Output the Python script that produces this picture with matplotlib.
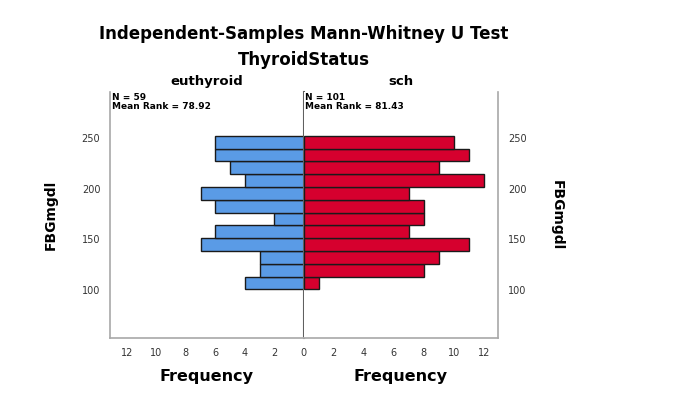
import numpy as np
import matplotlib
matplotlib.use("Agg")
import matplotlib.pyplot as plt

plt.rcParams['font.family'] = ['DejaVu Sans']

# bin edges of FBGmgdl
bin_edges = [100.7, 113.3, 126.0, 138.6, 151.2, 163.9, 176.5,
             189.1, 201.7, 214.4, 227.0, 239.6, 252.3]
# frequency per bin, bottom to top
euthyroid_counts = [4, 3, 3, 7, 6, 2, 6, 7, 4, 5, 6, 6]
sch_counts = [1, 8, 9, 11, 7, 8, 8, 7, 12, 9, 11, 10]
groups = ['euthyroid', 'sch']
group_info = ['N = 59\nMean Rank = 78.92', 'N = 101\nMean Rank = 81.43']
x_ticks_left = [0, 2, 4, 6, 8, 10, 12]
x_ticks_right = [2, 4, 6, 8, 10, 12]
y_ticks = [100, 150, 200, 250]

blue = '#5a9be6'
red = '#d6002e'

edges = np.array(bin_edges)
centers = (edges[:-1] + edges[1:]) / 2
heights = np.diff(edges)

fig = plt.figure(figsize=(6.8, 4.11), dpi=100)
ax_l = fig.add_axes([0.1618, 0.1776, 0.2849, 0.5993])
ax_r = fig.add_axes([0.4466, 0.1776, 0.2862, 0.5993])

ax_l.barh(centers, euthyroid_counts, height=heights, color=blue,
          edgecolor='#1a1a1a', linewidth=1.0, zorder=2)
ax_r.barh(centers, sch_counts, height=heights, color=red,
          edgecolor='#1a1a1a', linewidth=1.0, zorder=2)

for ax, xt in zip((ax_l, ax_r), (x_ticks_left, x_ticks_right)):
    ax.set_ylim(52.5, 296)
    ax.set_yticks(y_ticks)
    ax.set_xticks(xt)
    ax.tick_params(length=0, labelsize=7, colors='#333333', pad=7)
    ax.spines['top'].set_visible(False)
    for s in ax.spines.values():
        s.set_color('#a8a8a8')
        s.set_linewidth(1.2)
    ax.set_xlabel('Frequency', fontsize=11.5, fontweight='bold', labelpad=8)

ax_l.set_xlim(13.15, 0)
ax_r.set_xlim(0, 12.97)

ax_l.spines['right'].set_color('#606060')
ax_l.spines['right'].set_linewidth(1.5)
ax_r.spines['left'].set_visible(False)

ax_r.yaxis.tick_right()
ax_r.yaxis.set_label_position('right')
ax_l.set_ylabel('FBGmgdl', fontsize=10, fontweight='bold', labelpad=17)
ax_r.set_ylabel('FBGmgdl', fontsize=10, fontweight='bold', rotation=270,
                labelpad=27)

for ax, g, info in zip((ax_l, ax_r), groups, group_info):
    ax.set_title(g, fontsize=9.5, fontweight='bold', pad=5)
    ax.text(0.008, 0.995, info, transform=ax.transAxes, ha='left', va='top',
            fontsize=6.5, fontweight='bold', linespacing=0.95)

fig.text(0.447, 0.918, 'Independent-Samples Mann-Whitney U Test',
         ha='center', va='center', fontsize=12, fontweight='bold')
fig.text(0.447, 0.854, 'ThyroidStatus', ha='center', va='center',
         fontsize=12, fontweight='bold')

fig.savefig('out.png', dpi=100)
